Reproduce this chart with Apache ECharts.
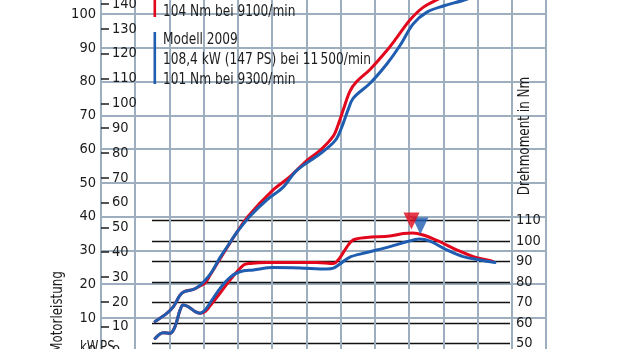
<!DOCTYPE html>
<html>
<head>
<meta charset="utf-8">
<script src="https://cdn.jsdelivr.net/npm/echarts@6/dist/echarts.min.js"></script>
<style>
  html, body { margin: 0; padding: 0; background: #fff; overflow: hidden; width: 620px; height: 349px; }
  /* the drawing area runs past the top and bottom edge of the view */
  #chart { position: absolute; left: 0; top: -60px; width: 620px; height: 419px; }
</style>
</head>
<body>
<div id="chart"></div>
<script>
// ---- Prüfstandsmessung: Leistung und Drehmoment über Drehzahl (1/min) ----

// Modell 2009 (blau) – Motorleistung in kW
const powerRpm2009 = [1580, 1920, 2110, 2310, 2450, 2700, 2890, 3040, 3230, 3480, 3770, 3960, 4350, 4840, 5330, 5720, 6400, 6840, 7030, 7220, 7370, 7860, 8350, 8730, 9120, 9510, 10000, 10680, 11000, 11500];
const powerKw2009  = [8.9, 11.3, 13.2, 16.7, 17.8, 18.4, 19.6, 21.1, 23.5, 27.9, 32.3, 35.2, 40.1, 44.9, 48.8, 53.7, 58.6, 62.5, 66.4, 71.7, 75.1, 79.5, 85.2, 90.6, 97.1, 100.5, 102.4, 104.4, 106.0, 108.4];

// Modell 2010 (rot) – Motorleistung in kW
const powerRpm2010 = [1580, 1920, 2110, 2310, 2450, 2700, 2890, 3040, 3180, 3480, 3770, 3960, 4300, 5030, 5520, 6010, 6400, 6790, 6930, 7080, 7270, 7470, 7860, 8350, 8640, 9030, 9410, 9850, 10500, 11000, 11460];
const powerKw2010  = [8.9, 11.3, 13.2, 16.7, 17.8, 18.4, 19.4, 20.3, 22.5, 27.5, 32.2, 35.2, 40.1, 47.9, 51.8, 56.6, 59.6, 63.9, 67.3, 71.7, 77.1, 80.0, 83.6, 89.2, 93.0, 98.3, 102.0, 104.4, 107.5, 109.5, 111.0];

// Modell 2009 (blau) – Drehmoment in Nm
const torqueRpm2009 = [1580, 1820, 2020, 2160, 2310, 2400, 2550, 2750, 2890, 3040, 3180, 3480, 3770, 4060, 4450, 5030, 5810, 6590, 6790, 6980, 7270, 7760, 8440, 8930, 9300, 9610, 10100, 10580, 11070, 11510];
const torqueNm2009  = [52.4, 55.2, 54.9, 58.1, 66.3, 68.7, 67.9, 65.5, 64.7, 66.3, 69.6, 76.9, 82.3, 85.0, 85.9, 87.1, 86.9, 86.4, 86.8, 88.8, 92.2, 94.4, 97.3, 99.7, 101.0, 100.0, 95.7, 92.4, 90.8, 89.5];

// Modell 2010 (rot) – Drehmoment in Nm
const torqueRpm2010 = [1580, 1820, 2020, 2160, 2310, 2400, 2550, 2750, 2890, 3040, 3180, 3480, 3770, 4160, 4350, 4840, 5810, 6300, 6790, 6980, 7180, 7370, 7760, 8440, 8830, 9100, 9410, 9900, 10390, 10880, 11360, 11460];
const torqueNm2010  = [52.4, 55.2, 54.9, 58.1, 66.3, 68.7, 67.9, 65.5, 64.7, 65.5, 68.2, 74.6, 81.0, 88.3, 89.1, 89.6, 89.6, 89.6, 89.1, 91.9, 97.1, 100.6, 101.8, 102.5, 103.7, 104.0, 103.0, 99.7, 95.7, 92.4, 90.5, 90.0];

// Drehmomentspitzen (Legende)
const peak2009 = { rpm: 9300, nm: 101 };
const peak2010 = { rpm: 9100, nm: 104 };

// Achsen
const rpmMax = 13000, rpmStep = 1000;
const kwMax = 120, kwStep = 10;
const kwToPs = 1.35962;
const nmMin = 50, nmMax = 110, nmStep = 10;

// Legendentexte
const legend2010 = ['104 Nm bei 9100/min'];
const legend2009 = ['Modell 2009', '108,4 kW (147 PS) bei 11\u2009500/min', '101 Nm bei 9300/min'];

// ---- Layout ----
const FONT = "'Liberation Sans Narrow','DejaVu Sans Condensed','DejaVu Sans',sans-serif";
const TXT = '#1c1c1c';
const GRIDC = '#9dafbf';
const RED = '#e2071c';
const BLUE = '#1f5db0';
const AXFS = 14.5;

const W = 620, H = 419;     // canvas size (taller than the view)
const OY = 60;              // canvas rows hidden above the view
const plotL = 101, plotR = 546;            // Drehzahlraster
const kwZeroY = 357 + OY, kwPerPx = 3.42;  // 0 kW sits just below the lower edge
const plotTop = kwZeroY - kwMax * kwPerPx;

// Drehmomentfeld (schwarze Linien)
const tqL = 152, tqR = 510, tqTop = 220.7 + OY, tqBottom = 343.3 + OY;
const pxToRpm = px => (px - plotL) / (plotR - plotL) * rpmMax;

const zip = (a, b) => a.map((v, i) => [v, b[i]]);

const chart = echarts.init(document.getElementById('chart'), null, { renderer: 'canvas' });

const lineSeries = (name, color, x, y, xi, yi) => ({
  name, type: 'line', xAxisIndex: xi, yAxisIndex: yi,
  data: zip(x, y), smooth: 0.35, symbol: 'none',
  lineStyle: { color, width: 3, cap: 'round', join: 'round' },
  clip: true, z: 5
});

const peakMarker = (color, p, dx, dy) => ({
  type: 'scatter', xAxisIndex: 1, yAxisIndex: 2,
  data: [[p.rpm, p.nm]],
  symbol: 'triangle', symbolRotate: 180, symbolSize: [16, 17],
  symbolOffset: [dx, dy],
  itemStyle: { color }, clip: false, z: 6, silent: true
});

const textEl = (text, x, y, size, extra) => Object.assign({
  type: 'text', x, y: y + OY, z: 20,
  style: { text, fill: TXT, font: size + 'px ' + FONT, align: 'left', verticalAlign: 'middle' }
}, extra || {});

chart.setOption({
  animation: false,
  backgroundColor: '#fff',
  grid: [
    { left: plotL, right: W - plotR, top: plotTop, bottom: H - kwZeroY, containLabel: false },
    { left: tqL, right: W - tqR, top: tqTop, bottom: H - tqBottom, containLabel: false }
  ],
  xAxis: [
    {
      type: 'value', gridIndex: 0, min: 0, max: rpmMax, interval: rpmStep,
      axisLine: { show: false }, axisTick: { show: false }, axisLabel: { show: false },
      splitLine: { show: true, lineStyle: { color: GRIDC, width: 2 } }
    },
    {
      type: 'value', gridIndex: 1, min: pxToRpm(tqL), max: pxToRpm(tqR), show: false,
      splitLine: { show: false }
    }
  ],
  yAxis: [
    { // kW
      type: 'value', gridIndex: 0, position: 'left', min: 0, max: kwMax, interval: kwStep,
      axisLine: { show: false }, axisTick: { show: false },
      axisLabel: { color: TXT, fontFamily: FONT, fontSize: AXFS, margin: 5, showMaxLabel: false },
      splitLine: { show: true, lineStyle: { color: GRIDC, width: 2 } }
    },
    { // PS
      type: 'value', gridIndex: 0, position: 'left', min: 0, max: kwMax * kwToPs, interval: 10,
      axisLine: { show: false },
      axisTick: { show: true, inside: true, length: 8, lineStyle: { color: TXT, width: 1.5 } },
      axisLabel: { inside: true, color: TXT, fontFamily: FONT, fontSize: AXFS, margin: 11, showMaxLabel: false },
      splitLine: { show: false }
    },
    { // Nm
      type: 'value', gridIndex: 1, position: 'right', min: nmMin, max: nmMax, interval: nmStep,
      axisLine: { show: false }, axisTick: { show: false },
      axisLabel: { color: TXT, fontFamily: FONT, fontSize: AXFS, margin: 6 },
      splitLine: { show: true, lineStyle: { color: '#111', width: 1.3 } }
    }
  ],
  series: [
    lineSeries('Leistung 2010', RED, powerRpm2010, powerKw2010, 0, 0),
    lineSeries('Drehmoment 2010', RED, torqueRpm2010, torqueNm2010, 1, 2),
    lineSeries('Leistung 2009', BLUE, powerRpm2009, powerKw2009, 0, 0),
    lineSeries('Drehmoment 2009', BLUE, torqueRpm2009, torqueNm2009, 1, 2),
    peakMarker(BLUE, peak2009, 1, -13),
    peakMarker(RED, peak2010, -1, -12)
  ],
  graphic: [
    { type: 'rect', z: 20, shape: { x: 153.5, y: OY - 10, width: 2.6, height: 27 }, style: { fill: RED } },
    { type: 'rect', z: 20, shape: { x: 153.5, y: OY + 32, width: 2.6, height: 52 }, style: { fill: BLUE } },
    textEl(legend2010[0], 163, 12, 16.5, { scaleX: 0.82 }),
    textEl(legend2009[0], 163, 40, 16.5, { scaleX: 0.82 }),
    textEl(legend2009[1], 163, 60, 16.5, { scaleX: 0.82 }),
    textEl(legend2009[2], 163, 80, 16.5, { scaleX: 0.82 }),
    textEl('kW', 80, 348, 15.5, { scaleX: 0.85 }),
    textEl('PS', 100, 348, 15.5, { scaleX: 0.85 }),
    (() => { const t = textEl('Motorleistung', 57.5, 312, 15.5, { scaleX: 0.85, rotation: Math.PI / 2 }); t.style.align = 'center'; return t; })(),
    (() => { const t = textEl('Drehmoment in Nm', 525, 136, 15.5, { scaleX: 0.86, rotation: Math.PI / 2 }); t.style.align = 'center'; return t; })()
  ]
});
</script>
</body>
</html>
